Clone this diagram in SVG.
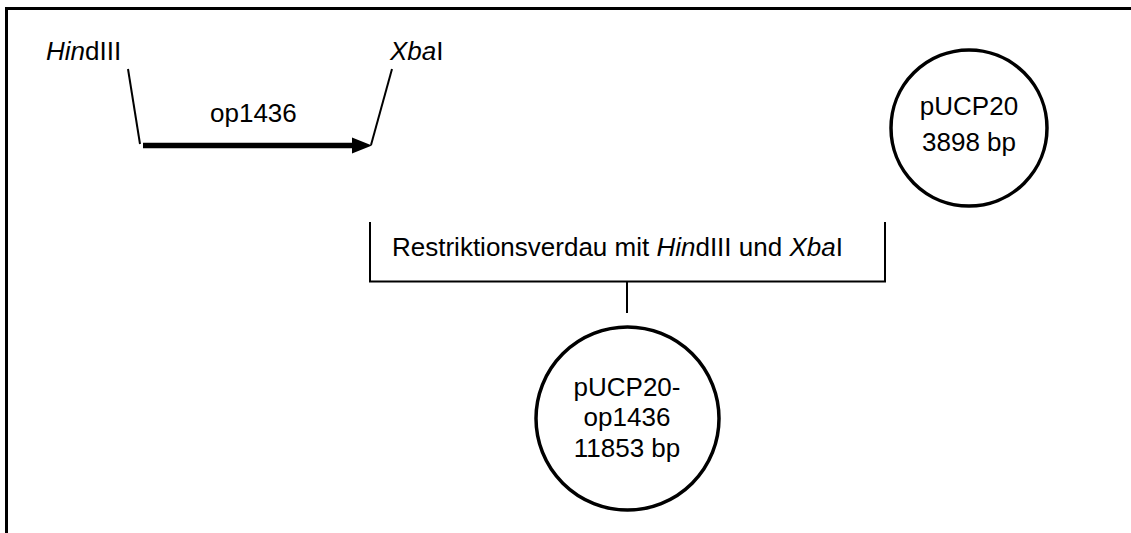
<svg xmlns="http://www.w3.org/2000/svg" width="1131" height="533" viewBox="0 0 1131 533">
<style>
text{font-family:"Liberation Sans",Arial,sans-serif;font-size:26px;fill:#000}
.it{font-style:italic}
.ln{stroke:#000;stroke-width:2;fill:none}
.c{stroke:#000;stroke-width:3.5;fill:#fff}
</style>
<defs>
<marker id="ah" markerWidth="6" markerHeight="6" refX="5" refY="3" orient="auto" markerUnits="userSpaceOnUse" viewBox="0 0 6 6">
<path d="M0,0 L6,3 L0,6 Z" fill="#000"/>
</marker>
</defs>
<rect width="1131" height="533" fill="#fff"/>
<g id="frame">
<line x1="5" y1="8.5" x2="1131" y2="8.5" stroke="#000" stroke-width="3"/>
<line x1="6.5" y1="7" x2="6.5" y2="533" stroke="#000" stroke-width="3"/>
</g>
<g id="insert">
<text x="46" y="60"><tspan class="it">Hin</tspan>dIII</text>
<text x="390" y="60"><tspan class="it">Xba</tspan>I</text>
<text x="210" y="122">op1436</text>
</g>
<g id="connectors">
<line class="ln" x1="128" y1="69" x2="140" y2="144"/>
<line class="ln" x1="392" y1="69" x2="371" y2="145"/>
<line x1="143" y1="145.5" x2="354" y2="145.5" stroke="#000" stroke-width="5.5"/>
<path d="M352,137.5 L372,145.5 L352,153.5 Z" fill="#000"/>
<path class="ln" d="M370,222 V281.5 H885 V222"/>
<line class="ln" x1="627" y1="281.5" x2="627" y2="313"/>
</g>
<g id="pUCP20">
<circle class="c" cx="969" cy="128" r="78"/>
<text x="969" y="115" text-anchor="middle">pUCP20</text>
<text x="969" y="151" text-anchor="middle">3898 bp</text>
</g>
<g id="digest">
<text x="392" y="256"><tspan>Restriktionsverdau mit </tspan><tspan class="it">Hin</tspan><tspan>dIII und </tspan><tspan class="it">Xba</tspan><tspan>I</tspan></text>
</g>
<g id="pUCP20-op1436">
<circle class="c" cx="627.5" cy="418.5" r="91.5"/>
<text x="627" y="396" text-anchor="middle">pUCP20-</text>
<text x="627" y="426" text-anchor="middle">op1436</text>
<text x="627" y="457" text-anchor="middle">11853 bp</text>
</g>
</svg>
